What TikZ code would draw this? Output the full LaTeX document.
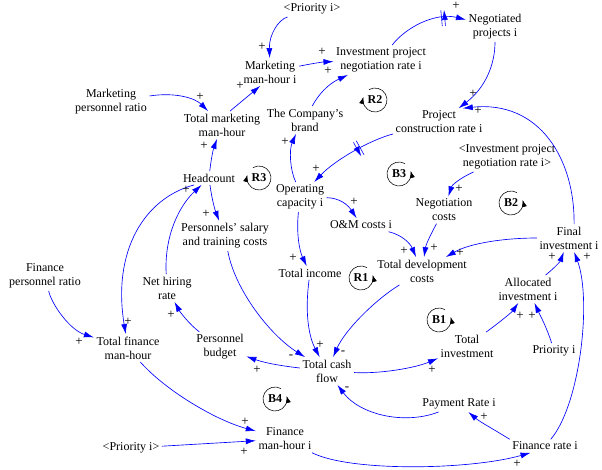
\documentclass[tikz,border=0pt]{standalone}
\usepackage{fontspec}
\setmainfont{Liberation Serif}
\usetikzlibrary{arrows.meta,decorations.markings}
\definecolor{lk}{RGB}{0,0,255}
\begin{document}
\begin{tikzpicture}[x=1pt,y=-1pt,
 var/.style={align=center, inner sep=2.5pt, font=\fontsize{12}{14}\selectfont},
 pol/.style={inner sep=0pt, text=black, font=\fontsize{13}{14}\selectfont},
 link/.style={draw=lk, line width=0.65pt, -{Latex[length=10pt,width=6pt]}},
 delaymark/.style={postaction={decorate, decoration={markings, mark=at position #1 with {\draw[lk,line width=0.6pt] (-1.6pt,-8pt)--(-1.6pt,8pt) (1.6pt,-8pt)--(1.6pt,8pt);}}}},
 loopl/.style={font=\bfseries\fontsize{12}{14}\selectfont, inner sep=0pt},
 looparc/.style={line width=0.55pt, y=1pt, -{Latex[length=7pt,width=5pt]}}
]
\useasboundingbox (0,0) rectangle (602,469);
\fill[white] (0,0) rectangle (602,469);

% variables
\node[var] (prioT) at (312,9) {<Priority i>};
\node[var] (mmh) at (270,72) {Marketing\\man-hour i};
\node[var] (ipnr) at (381,60) {Investment project\\negotiation rate i};
\node[var] (negp) at (495,27) {Negotiated\\projects i};
\node[var] (mpr) at (111,102) {Marketing\\personnel ratio};
\node[var] (tmmh) at (222,125) {Total marketing\\man-hour};
\node[var] (brand) at (305,120) {The Company's\\brand};
\node[var] (pcr) at (439,122) {Project\\construction rate i};
\node[var] (head) at (209,178) {Headcount};
\node[var] (opc) at (300,197) {Operating\\capacity i};
\node[var] (ipnr2) at (507,157) {<Investment project\\negotiation rate i>};
\node[var] (negc) at (444,210) {Negotiation\\costs};
\node[var] (om) at (361,225) {O\&M costs i};
\node[var] (fin) at (569,238) {Final\\investment i};
\node[var] (pstc) at (225,236) {Personnels' salary\\and training costs};
\node[var] (tinc) at (310,273) {Total income};
\node[var] (tdc) at (422,271) {Total development\\costs};
\node[var] (alloc) at (528,289) {Allocated\\investment i};
\node[var] (fpr) at (45,276) {Finance\\personnel ratio};
\node[var] (nhr) at (167,288) {Net hiring\\rate};
\node[var] (tfmh) at (128,348) {Total finance\\man-hour};
\node[var] (pbud) at (220,347) {Personnel\\budget};
\node[var] (tinv) at (467,346) {Total\\investment};
\node[var] (prioR) at (554,351) {Priority i};
\node[var] (tcf) at (327,371) {Total cash\\flow};
\node[var] (pay) at (459,404) {Payment Rate i};
\node[var] (prioB) at (131,448) {<Priority i>};
\node[var] (fmh) at (285,439) {Finance\\man-hour i};
\node[var] (frate) at (545,446) {Finance rate i};

% links
\draw[link] (prioT) .. controls (278,20) and (269,35) .. (mmh);
\draw[link] (mmh) .. controls (310,64) and (322,62) .. (ipnr);
\draw[link] (brand) .. controls (318,95) and (328,84) .. (ipnr);
\draw[link,delaymark=0.72] (ipnr) .. controls (405,28) and (435,12) .. (negp);
\draw[link] (negp) .. controls (495,65) and (485,88) .. (pcr.35);
\draw[link] (fin.70) .. controls (575,160) and (540,100) .. (pcr.30);
\draw[link,delaymark=0.4] (pcr) .. controls (370,140) and (335,160) .. (opc);
\draw[link] (opc.106) .. controls (290,170) and (289,150) .. (brand.237);
\draw[link] (tmmh.60) -- (mmh.235);
\draw[link] (mpr) .. controls (175,92) and (195,98) .. (tmmh);
\draw[link] (head) .. controls (211,160) and (213,150) .. (tmmh);
\draw[link] (head) .. controls (212,200) and (215,210) .. (pstc);
\draw[link] (pstc) .. controls (235,290) and (270,335) .. (tcf);
\draw[link] (opc) .. controls (296,235) and (300,252) .. (tinc);
\draw[link] (opc) .. controls (340,198) and (348,205) .. (om);
\draw[link] (om) .. controls (402,235) and (410,243) .. (tdc);
\draw[link] (negc) .. controls (432,232) and (426,244) .. (tdc);
\draw[link] (ipnr2) .. controls (460,178) and (452,185) .. (negc);
\draw[link] (fin) .. controls (505,238) and (470,243) .. (tdc);
\draw[link] (tdc) .. controls (375,300) and (345,330) .. (tcf);
\draw[link] (tinc) .. controls (305,310) and (308,335) .. (tcf);
\draw[link] (tcf) .. controls (282,366) and (265,363) .. (pbud);
\draw[link] (pbud) .. controls (190,325) and (180,312) .. (nhr);
\draw[link] (nhr) .. controls (164,235) and (180,205) .. (head);
\draw[link] (head.205) .. controls (145,198) and (112,250) .. (tfmh);
\draw[link] (fpr) .. controls (52,305) and (70,330) .. (tfmh);
\draw[link] (tfmh) .. controls (165,390) and (215,420) .. (fmh);
\draw[link] (prioB) -- (fmh);
\draw[link] (fmh) .. controls (350,472) and (470,470) .. (frate.205);
\draw[link] (frate.north west) .. controls (495,430) and (480,422) .. (pay);
\draw[link] (pay) .. controls (405,425) and (360,415) .. (tcf);
\draw[link] (tcf) .. controls (380,374) and (415,368) .. (tinv);
\draw[link] (tinv) .. controls (500,322) and (512,312) .. (alloc);
\draw[link] (prioR) .. controls (547,328) and (540,315) .. (alloc);
\draw[link] (alloc) .. controls (552,270) and (560,262) .. (fin);
\draw[link] (frate) .. controls (580,405) and (592,300) .. (fin);

% polarities
\node[pol] (s1) at (262,47) {+};
\node[pol] (s2) at (322,52) {+};
\node[pol] (s3) at (328,71) {+};
\node[pol] (s4) at (456,6) {+};
\node[pol] (s5) at (473,94) {+};
\node[pol] (s6) at (478,111) {+};
\node[pol] (s7) at (316,169) {+};
\node[pol] (s8) at (285,142) {+};
\node[pol] (s9) at (240,86) {+};
\node[pol] (s10) at (200,97) {+};
\node[pol] (s11) at (204,146) {+};
\node[pol] (s12) at (206,214) {+};
\node[pol] (s13) at (291,357) {-};
\node[pol] (s14) at (293,258) {+};
\node[pol] (s15) at (354,202) {+};
\node[pol] (s16) at (404,251) {+};
\node[pol] (s17) at (434,248) {+};
\node[pol] (s18) at (459,189) {+};
\node[pol] (s19) at (460,253) {+};
\node[pol] (s20) at (343,353) {-};
\node[pol] (s21) at (320,345) {+};
\node[pol] (s22) at (257,370) {+};
\node[pol] (s23) at (171,315) {+};
\node[pol] (s24) at (186,190) {+};
\node[pol] (s25) at (128,322) {+};
\node[pol] (s26) at (79,342) {+};
\node[pol] (s27) at (245,422) {+};
\node[pol] (s28) at (244,452) {+};
\node[pol] (s29) at (517,464) {+};
\node[pol] (s30) at (484,417) {+};
\node[pol] (s31) at (347,389) {-};
\node[pol] (s32) at (432,370) {+};
\node[pol] (s33) at (520,316) {+};
\node[pol] (s34) at (532,316) {+};
\node[pol] (s35) at (552,257) {+};
\node[pol] (s36) at (587,257) {+};

% loop markers
\node[loopl] (R2) at (375,100) {R2};
\draw[looparc] (R2.center) ++(120:12) arc[start angle=120,end angle=-195,radius=12];
\node[loopl] (R3) at (259,178) {R3};
\draw[looparc] (R3.center) ++(120:12) arc[start angle=120,end angle=-195,radius=12];
\node[loopl] (B3) at (399,174) {B3};
\draw[looparc] (B3.center) ++(60:12) arc[start angle=60,end angle=375,radius=12];
\node[loopl] (B2) at (511,203) {B2};
\draw[looparc] (B2.center) ++(60:12) arc[start angle=60,end angle=375,radius=12];
\node[loopl] (R1) at (361,278) {R1};
\draw[looparc] (R1.center) ++(60:12) arc[start angle=60,end angle=375,radius=12];
\node[loopl] (B1) at (439,320) {B1};
\draw[looparc] (B1.center) ++(60:12) arc[start angle=60,end angle=375,radius=12];
\node[loopl] (B4) at (275,399) {B4};
\draw[looparc] (B4.center) ++(60:12) arc[start angle=60,end angle=375,radius=12];
\end{tikzpicture}
\end{document}
